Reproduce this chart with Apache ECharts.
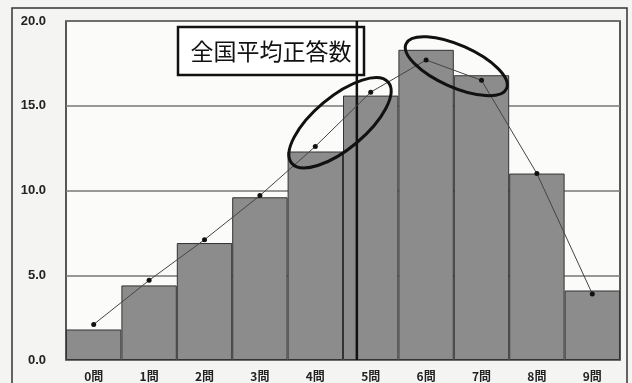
<!DOCTYPE html>
<html>
<head>
<meta charset="utf-8">
<script src="https://cdn.jsdelivr.net/npm/echarts@6/dist/echarts.min.js"></script>
<style>
  html, body { margin: 0; padding: 0; background: #f4f4f2; }
  #chart { width: 632px; height: 383px; }
</style>
</head>
<body>
<div id="chart"></div>
<script>
// Distribution of the number of correct answers (percentage of students)
const categories = ['0問', '1問', '2問', '3問', '4問', '5問', '6問', '7問', '8問', '9問'];
const schoolPct = [1.8, 4.4, 6.9, 9.6, 12.3, 15.6, 18.3, 16.8, 11.0, 4.1];
const nationalPct = [2.1, 4.7, 7.1, 9.7, 12.6, 15.8, 17.7, 16.5, 11.0, 3.9];
const yTicks = [0, 5, 10, 15, 20];
const avgCorrect = 5.25;           // national mean, on a 0-10 scale across the bars
const avgLabel = '全国平均正答数';
// Pairs of points circled on the national line
const circledPairs = [[4, 5], [6, 7]];

// Hand-drawn circle shapes around each pair: offset from the pair midpoint, radii, tilt (deg)
const circleShapes = [
  { dx: -3, dy: 3.5, rx: 63, ry: 26, tilt: 40 },
  { dx: 2.5, dy: -4, rx: 55, ry: 21, tilt: -24 }
];

const chart = echarts.init(document.getElementById('chart'));

chart.setOption({
  backgroundColor: '#f4f4f2',
  animation: false,
  grid: {
    left: 66, right: 12, top: 21, bottom: 23,
    show: true,
    backgroundColor: '#fbfbfa',
    borderColor: '#222',
    borderWidth: 1.5
  },
  xAxis: [{
    type: 'category',
    data: categories,
    boundaryGap: true,
    axisLine: { show: false },
    axisTick: { show: false },
    axisLabel: {
      margin: 10,
      color: '#222',
      fontSize: 12,
      fontWeight: 'bold',
      fontFamily: 'Noto Sans CJK JP'
    }
  }, {
    type: 'value',
    min: 0, max: 10,
    show: false
  }],
  yAxis: {
    type: 'value',
    min: yTicks[0],
    max: yTicks[yTicks.length - 1],
    interval: yTicks[1] - yTicks[0],
    axisLine: { show: false },
    axisTick: { show: false },
    splitLine: { lineStyle: { color: '#777', width: 1.5 } },
    axisLabel: {
      margin: 20,
      color: '#222',
      fontSize: 13,
      fontWeight: 'bold',
      fontFamily: 'Liberation Sans',
      formatter: v => v.toFixed(1)
    }
  },
  series: [{
    type: 'bar',
    data: schoolPct,
    barWidth: '100%',
    itemStyle: { color: '#8c8c8c', borderColor: '#333', borderWidth: 1 },
    z: 2
  }, {
    type: 'line',
    data: nationalPct,
    symbol: 'circle',
    symbolSize: 5,
    lineStyle: { color: '#444', width: 1 },
    itemStyle: { color: '#111' },
    z: 5
  }, {
    type: 'line',
    xAxisIndex: 1,
    data: [[avgCorrect, yTicks[0]], [avgCorrect, yTicks[yTicks.length - 1]]],
    symbol: 'none',
    lineStyle: { color: '#111', width: 2.5 },
    z: 4
  }]
});

// Annotations: circles around point pairs, outer frame and the label box
const graphics = [{
  type: 'rect',
  shape: { x: 12, y: 8, width: 615, height: 400 },
  style: { fill: 'none', stroke: '#333', lineWidth: 1.5 },
  silent: true, z: 1
}];

circledPairs.forEach(([a, b], i) => {
  const s = circleShapes[i];
  const p1 = chart.convertToPixel({ seriesIndex: 1 }, [a, nationalPct[a]]);
  const p2 = chart.convertToPixel({ seriesIndex: 1 }, [b, nationalPct[b]]);
  graphics.push({
    type: 'ellipse',
    x: (p1[0] + p2[0]) / 2 + s.dx,
    y: (p1[1] + p2[1]) / 2 + s.dy,
    rotation: s.tilt * Math.PI / 180,
    shape: { cx: 0, cy: 0, rx: s.rx, ry: s.ry },
    style: { fill: 'none', stroke: '#111', lineWidth: 3 },
    silent: true, z: 20
  });
});

graphics.push({
  type: 'group',
  z: 30,
  children: [{
    type: 'rect',
    shape: { x: 178, y: 27, width: 186, height: 48 },
    style: { fill: '#fff', stroke: '#111', lineWidth: 2.5 }
  }, {
    type: 'text',
    x: 271, y: 51,
    style: {
      text: avgLabel,
      fill: '#111',
      font: '23px "Noto Sans CJK JP"',
      align: 'center',
      verticalAlign: 'middle'
    }
  }]
});

chart.setOption({ graphic: graphics });
</script>
</body>
</html>
